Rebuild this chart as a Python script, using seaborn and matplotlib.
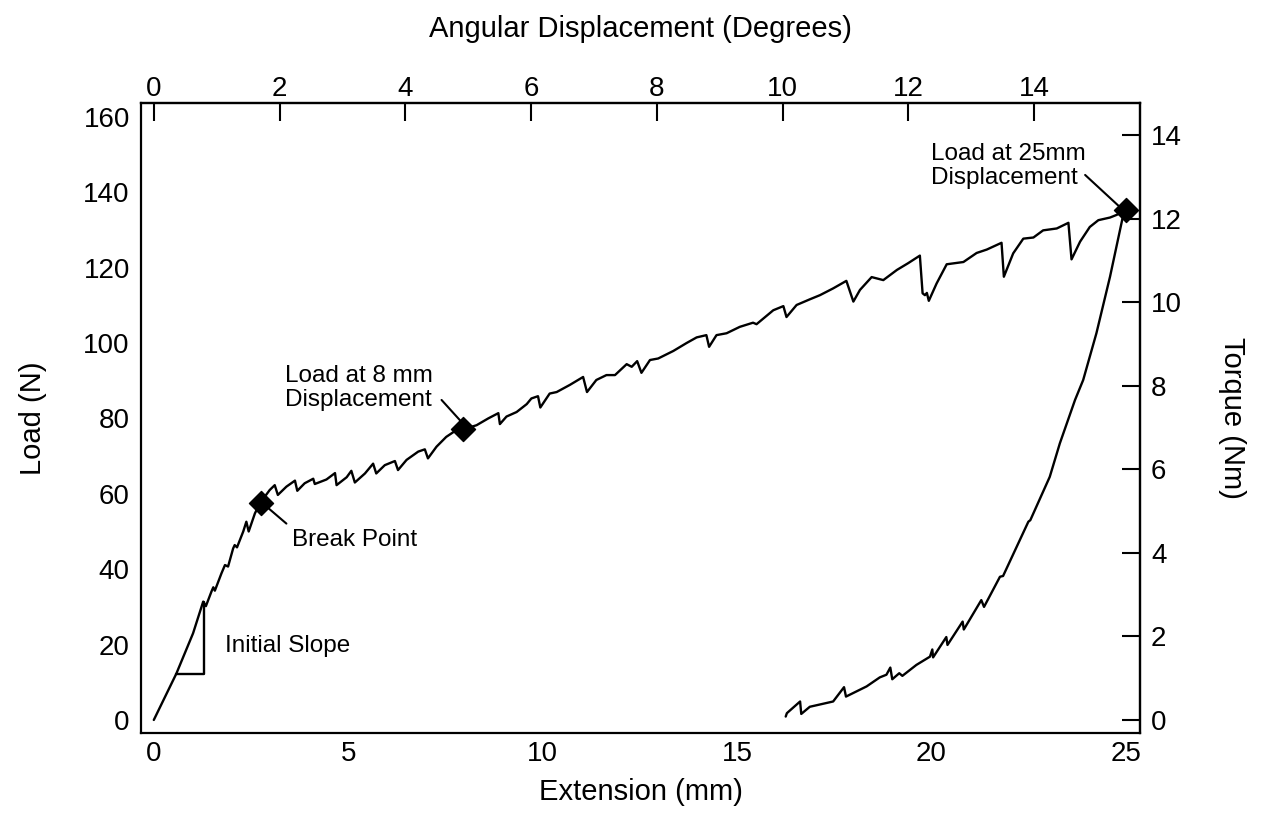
import numpy as np
import pandas as pd
import matplotlib
matplotlib.use("Agg")
import matplotlib.pyplot as plt
import seaborn as sns

# ---------------- data ----------------
load_ext = [0.00, 0.58, 1.01, 1.27, 1.34, 1.48, 1.53, 1.57, 1.74, 1.83, 1.91, 2.04, 2.08,
            2.14, 2.30, 2.38, 2.44, 2.60, 2.73, 2.98, 3.11, 3.19, 3.41, 3.63, 3.69, 3.88,
            4.10, 4.14, 4.44, 4.66, 4.70, 4.96, 5.08, 5.17, 5.43, 5.64, 5.72, 5.94, 6.20,
            6.28, 6.50, 6.80, 6.97, 7.05, 7.27, 7.52, 7.78, 7.96, 8.30, 8.60, 8.86, 8.90,
            9.07, 9.33, 9.59, 9.71, 9.88, 9.94, 10.18, 10.36, 10.70, 11.04, 11.14, 11.38,
            11.64, 11.86, 12.16, 12.29, 12.43, 12.54, 12.76, 12.97, 13.36, 13.70, 13.96,
            14.21, 14.28, 14.47, 14.73, 15.07, 15.41, 15.50, 15.93, 16.19, 16.27, 16.53,
            16.87, 17.13, 17.47, 17.81, 17.99, 18.16, 18.46, 18.76, 19.11, 19.40, 19.70,
            19.77, 19.83, 19.88, 19.93, 20.13, 20.39, 20.82, 21.16, 21.42, 21.80, 21.86,
            22.10, 22.36, 22.62, 22.87, 23.22, 23.52, 23.60, 23.82, 24.07, 24.29, 24.59,
            24.76, 25.00]
load_force = [0.0, 12.3, 23.0, 31.4, 30.2, 34.0, 35.2, 34.3, 38.9, 41.1, 40.7, 45.5, 46.4,
              45.8, 50.0, 52.6, 50.0, 54.8, 57.5, 61.0, 62.3, 59.7, 61.9, 63.5, 60.8, 62.8,
              64.0, 62.6, 63.8, 65.5, 62.3, 64.4, 66.1, 63.0, 65.4, 68.0, 65.4, 67.6, 68.7,
              66.3, 69.0, 71.2, 71.8, 69.4, 72.5, 75.1, 76.9, 77.1, 78.2, 80.0, 81.4, 78.5,
              80.5, 81.7, 83.8, 85.3, 85.9, 82.9, 86.6, 87.0, 88.9, 91.0, 87.0, 90.2,
              91.5, 91.5, 94.4, 93.7, 95.2, 92.1, 95.5, 95.9, 97.9, 100.0, 101.5,
              102.1, 99.0, 102.1, 102.6, 104.3, 105.4, 105.0, 108.7, 109.8, 106.9, 110.1,
              111.6, 112.7, 114.5, 116.5, 111.0, 114.1, 117.5, 116.7, 119.4, 121.2, 123.2,
              113.2, 112.7, 113.3, 111.2, 115.8, 120.9, 121.5, 123.9, 124.8, 126.6, 117.6,
              123.8, 127.7, 128.0, 129.9, 130.4, 131.9, 122.2, 126.9, 130.8, 132.6, 133.3,
              134.0, 135.3]

unload_ext = [25.00, 24.93, 24.59, 24.24, 23.90, 23.69, 23.30, 23.04, 22.54, 22.49, 21.84,
              21.76, 21.35, 21.28, 20.83, 20.80, 20.41, 20.38, 20.04, 20.02, 19.96, 19.61,
              19.25, 19.17, 18.99, 18.94, 18.84, 18.67, 18.33, 17.80, 17.75, 17.47, 16.87,
              16.65, 16.62, 16.28, 16.25]
unload_force = [135.3, 134.0, 117.6, 102.6, 90.2, 84.9, 73.4, 64.5, 53.0, 52.6, 38.2,
                38.0, 30.0, 31.8, 24.0, 26.1, 19.9, 22.0, 16.6, 18.7, 16.8, 14.6,
                11.7, 12.4, 10.8, 13.9, 12.0, 11.3, 8.9, 6.2, 8.7, 4.9, 3.5,
                1.6, 4.9, 1.8, 0.9]

marker_ext = [2.75, 7.96, 25.00]
marker_force = [57.6, 77.1, 135.3]

slope_ext = [0.58, 1.30, 1.30]
slope_force = [12.3, 12.3, 31.4]

x_ticks = [0, 5, 10, 15, 20, 25]
y_ticks = [0, 20, 40, 60, 80, 100, 120, 140, 160]
deg_ticks = [0, 2, 4, 6, 8, 10, 12, 14]
torque_ticks = [0, 2, 4, 6, 8, 10, 12, 14]

DEG_PER_MM = 0.6185
NM_PER_N = 0.0902

# ---------------- style ----------------
sns.set_style("white")
plt.rcParams["font.family"] = ["Liberation Sans", "DejaVu Sans"]
plt.rcParams["text.color"] = "black"
plt.rcParams["axes.labelcolor"] = "black"

fig = plt.figure(figsize=(12.62, 8.35), dpi=100)
ax = fig.add_axes([0.1117, 0.1222, 0.7916, 0.7545])

df_load = pd.DataFrame({"ext": load_ext, "force": load_force})
df_unload = pd.DataFrame({"ext": unload_ext, "force": unload_force})
sns.lineplot(data=df_load, x="ext", y="force", sort=False, estimator=None,
             color="black", lw=1.7, ax=ax)
sns.lineplot(data=df_unload, x="ext", y="force", sort=False, estimator=None,
             color="black", lw=1.7, ax=ax)
sns.lineplot(x=slope_ext, y=slope_force, sort=False, estimator=None,
             color="black", lw=1.7, ax=ax)
sns.scatterplot(x=marker_ext, y=marker_force, marker="D", s=150, color="black",
                edgecolor="black", linewidth=1, zorder=5, ax=ax)

ax.set_xlim(-0.33, 25.36)
ax.set_ylim(-3.45, 163.7)
ax.set_xticks(x_ticks)
ax.set_yticks(y_ticks)

for sp in ax.spines.values():
    sp.set_visible(True)
    sp.set_color("black")
    sp.set_linewidth(1.6)

tick_kw = dict(direction="in", length=13, width=1.5, labelsize=20, colors="black")
ax.tick_params(axis="x", pad=6, **tick_kw)
ax.tick_params(axis="y", pad=8, **tick_kw)

top = ax.secondary_xaxis("top", functions=(lambda x: x * DEG_PER_MM,
                                            lambda d: d / DEG_PER_MM))
top.set_xticks(deg_ticks)
top.tick_params(axis="x", pad=0.5, **tick_kw)
top.spines["top"].set_linewidth(1.6)

right = ax.secondary_yaxis("right", functions=(lambda y: y * NM_PER_N,
                                                lambda t: t / NM_PER_N))
right.set_yticks(torque_ticks)
right.tick_params(axis="y", pad=8, **tick_kw)
right.spines["right"].set_linewidth(1.6)

ax.set_xlabel("Extension (mm)", fontsize=21, labelpad=8)
ax.set_ylabel("Load (N)", fontsize=21, labelpad=26)
top.set_xlabel("Angular Displacement (Degrees)", fontsize=21, labelpad=28)
right.set_ylabel("Torque (Nm)", fontsize=21, rotation=270, labelpad=46)

# annotations
txt_kw = dict(fontsize=17.5, color="black", ha="left", va="center", linespacing=1.13)
ax.text(1.83, 19.5, "Initial Slope", **txt_kw)
ax.text(3.55, 47.8, "Break Point", **txt_kw)
ax.text(3.37, 88.1, "Load at 8 mm\nDisplacement", **txt_kw)
ax.text(19.98, 146.9, "Load at 25mm\nDisplacement", **txt_kw)

line_kw = dict(arrowstyle="-", color="black", lw=1.5, shrinkA=0, shrinkB=0)
ax.annotate("", xy=(3.41, 52.1), xytext=(2.9, 56.6), arrowprops=line_kw)
ax.annotate("", xy=(7.91, 79.1), xytext=(7.4, 84.9), arrowprops=line_kw)
ax.annotate("", xy=(24.8, 136.5), xytext=(23.95, 144.6), arrowprops=line_kw)

fig.savefig("out.png", dpi=100, facecolor="white")
